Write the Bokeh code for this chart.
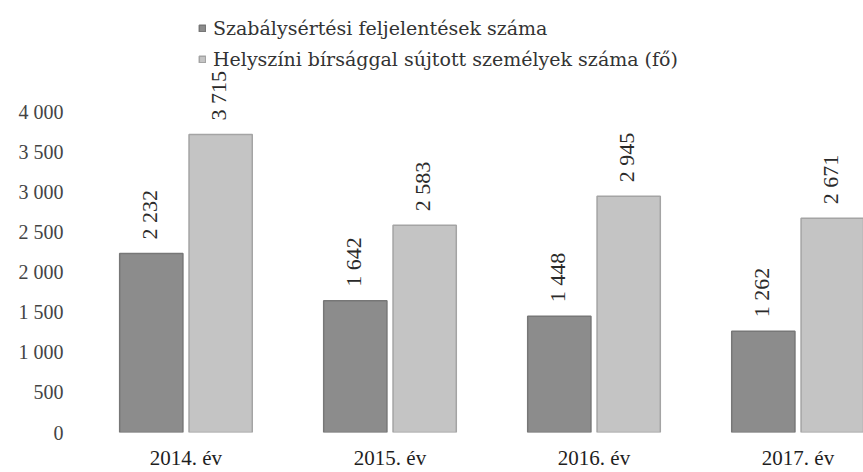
import math
from bokeh.plotting import figure
from bokeh.models import Range1d, FixedTicker, Legend, LegendItem, ColumnDataSource
from bokeh.core.properties import value
from bokeh.embed import file_html
from bokeh.resources import INLINE

# ---- data ----
years = ["2014. év", "2015. év", "2016. év", "2017. év"]
series_names = ["Szabálysértési feljelentések száma",
                "Helyszíni bírsággal sújtott személyek száma (fő)"]
feljelentesek = [2232, 1642, 1448, 1262]
birsag = [3715, 2583, 2945, 2671]
y_ticks = [0, 500, 1000, 1500, 2000, 2500, 3000, 3500, 4000]
y_tick_labels = ["0", "500", "1 000", "1 500", "2 000", "2 500", "3 000", "3 500", "4 000"]

def fmt(v):
    return f"{v:,}".replace(",", " ")

idx = list(range(len(years)))
off = 0.17
bw = 0.31

src1 = ColumnDataSource(dict(x=[i - off for i in idx], top=feljelentesek,
                             lab=[fmt(v) for v in feljelentesek]))
src2 = ColumnDataSource(dict(x=[i + off for i in idx], top=birsag,
                             lab=[fmt(v) for v in birsag]))

p = figure(width=863, height=472, output_backend="svg", toolbar_location=None,
           x_range=Range1d(-0.566, 3.321), y_range=Range1d(0, 5260),
           min_border_left=70, min_border_right=0, min_border_top=10,
           min_border_bottom=40)
p.outline_line_color = None
p.xgrid.grid_line_color = None
p.ygrid.grid_line_color = None
p.background_fill_color = "white"

dark = "#8c8c8c"
light = "#c4c4c4"

r1 = p.vbar(x="x", top="top", width=bw, bottom=0, source=src1,
            fill_color=dark, line_color="#777777", line_width=1.5)
r2 = p.vbar(x="x", top="top", width=bw, bottom=0, source=src2,
            fill_color=light, line_color="#a4a4a4", line_width=1.5)

for s in (src1, src2):
    p.text(x="x", y="top", text="lab", source=s, angle=math.pi / 2,
           text_align="left", text_baseline="middle", y_offset=-14,
           x_offset=-2,
           text_font=value("Liberation Serif"), text_font_size="22px",
           text_color="#2a2a2a")

# axes
p.xaxis.ticker = FixedTicker(ticks=idx)
p.xaxis.major_label_overrides = {i: years[i] for i in idx}
p.xaxis.axis_line_color = None
p.xaxis.major_tick_line_color = None
p.xaxis.minor_tick_line_color = None
p.xaxis.major_tick_out = 0
p.xaxis.major_label_standoff = 13
p.xaxis.major_label_text_font = "Liberation Serif"
p.xaxis.major_label_text_font_size = "21px"
p.xaxis.major_label_text_color = "#1e1e1e"

p.yaxis.ticker = FixedTicker(ticks=y_ticks)
p.yaxis.major_label_overrides = {t: l for t, l in zip(y_ticks, y_tick_labels)}
p.yaxis.axis_line_color = None
p.yaxis.major_tick_line_color = None
p.yaxis.minor_tick_line_color = None
p.yaxis.major_tick_out = 0
p.yaxis.major_label_standoff = 7
p.yaxis.major_label_text_font = "Liberation Serif"
p.yaxis.major_label_text_font_size = "20px"
p.yaxis.major_label_text_color = "#444444"

legend = Legend(items=[LegendItem(label=series_names[0], renderers=[r1]),
                       LegendItem(label=series_names[1], renderers=[r2])],
                location=(128, 362), orientation="vertical",
                padding=0, margin=0, spacing=9,
                glyph_width=8, glyph_height=8, label_standoff=7,
                label_height=20,
                label_text_font="DejaVu Serif", label_text_font_size="19px",
                label_text_color="#333333",
                border_line_color=None, background_fill_alpha=0)
p.add_layout(legend)

open("out.html", "w").write(file_html(p, INLINE))
